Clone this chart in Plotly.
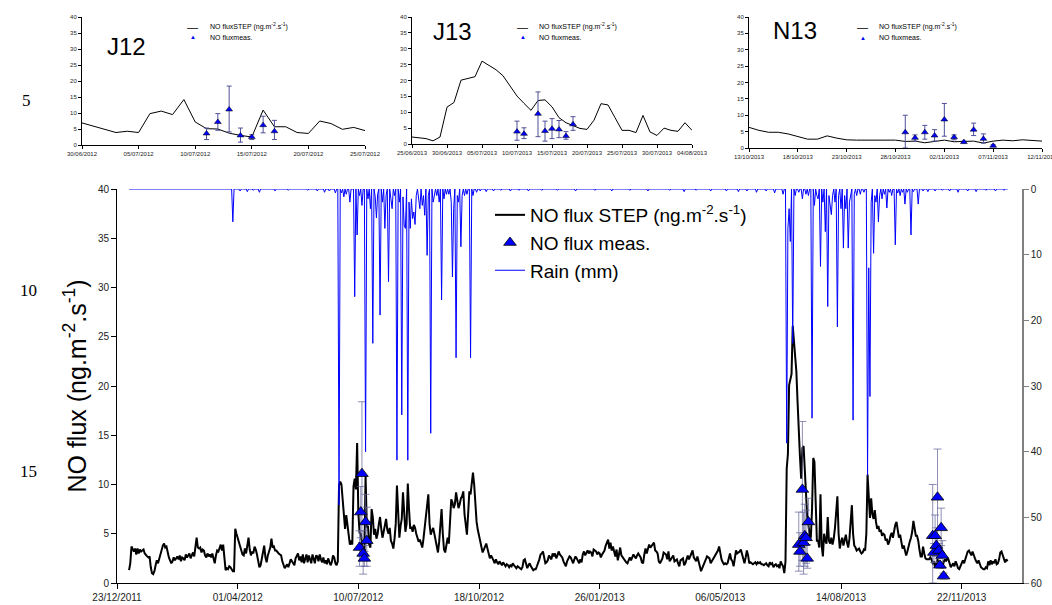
import numpy as np
import pandas as pd
import plotly.graph_objects as go

# ---------------- data ----------------
START = pd.Timestamp("2011-12-23")
step_first_day = 10          # first daily value = START + 10 days
step_val = [
    1.3, 2.0, 3.7, 3.4, 3.2, 3.5, 2.9, 3.5, 3.0, 3.4,
    3.2, 3.3, 3.4, 3.0, 2.8, 2.7, 2.6, 2.7, 1.6, 1.0,
    0.9, 1.2, 1.8, 2.3, 2.0, 2.5, 2.9, 3.2, 3.8, 4.0,
    3.6, 3.7, 3.0, 2.6, 2.3, 2.0, 2.2, 2.6, 2.3, 2.5,
    2.7, 2.4, 2.8, 2.2, 2.6, 2.5, 2.3, 2.9, 2.6, 2.8,
    3.0, 2.5, 2.8, 3.1, 2.7, 3.5, 4.6, 3.6, 3.5, 3.6,
    3.1, 3.4, 3.3, 2.8, 2.6, 3.0, 2.7, 2.9, 2.6, 3.0,
    2.5, 2.0, 2.8, 3.3, 3.2, 3.5, 3.9, 3.3, 3.9, 2.6,
    1.3, 1.5, 1.4, 1.7, 1.6, 1.4, 1.2, 1.2, 5.5, 5.0,
    4.6, 4.0, 3.8, 3.2, 2.9, 2.8, 3.5, 3.0, 3.9, 4.6,
    3.4, 2.8, 3.2, 3.0, 3.7, 3.4, 2.9, 2.2, 1.6, 1.8,
    2.4, 3.2, 3.8, 2.6, 2.1, 2.8, 3.3, 3.6, 4.5, 3.6,
    3.7, 3.3, 3.3, 3.1, 3.0, 2.9, 2.8, 2.2, 1.7, 1.5,
    1.7, 1.9, 1.6, 2.0, 2.4, 2.2, 2.0, 1.8, 2.5, 2.7,
    3.0, 2.3, 2.7, 2.1, 2.9, 2.0, 2.6, 2.9, 2.1, 2.8,
    2.4, 2.0, 2.9, 2.3, 2.0, 2.8, 2.7, 2.2, 2.9, 2.4,
    2.1, 2.6, 2.0, 2.3, 1.9, 2.5, 2.2, 1.8, 2.1, 2.8,
    2.6, 2.0, 1.8, 2.2, 9.9, 10.3, 10.0, 8.5, 7.9, 5.5,
    6.9, 5.9, 5.1, 3.9, 4.3, 3.9, 9.8, 10.6, 9.5, 14.2,
    7.2, 5.1, 5.0, 3.7, 3.0, 2.5, 10.9, 5.7, 5.7, 3.9,
    3.6, 7.5, 6.7, 4.9, 5.5, 4.5, 5.0, 6.0, 6.7, 5.5,
    4.6, 5.2, 6.0, 6.5, 5.4, 5.0, 5.6, 4.3, 4.0, 3.5,
    4.5, 6.0, 9.9, 7.5, 4.6, 5.8, 6.5, 9.2, 6.8, 5.2,
    6.0, 10.1, 7.5, 5.5, 5.7, 5.2, 5.9, 5.6, 5.0, 4.6,
    4.2, 4.4, 3.9, 3.6, 4.5, 5.6, 6.8, 8.0, 9.0, 6.0,
    4.9, 5.3, 5.6, 5.0, 4.3, 3.9, 3.1, 4.2, 6.0, 7.5,
    5.0, 3.4, 3.1, 3.8, 4.6, 4.0, 6.5, 8.5, 8.2, 7.6,
    8.0, 9.2, 8.4, 7.6, 8.0, 8.6, 8.8, 9.3, 7.0, 5.5,
    4.9, 7.0, 9.3, 9.0, 10.3, 11.2, 10.0, 7.8, 6.2, 5.4,
    4.9, 4.2, 3.6, 3.1, 3.4, 3.8, 4.0, 3.5, 2.9, 2.5,
    2.8, 2.6, 2.3, 2.0, 2.4, 2.1, 1.9, 2.2, 2.0, 1.8,
    2.1, 1.9, 1.7, 1.9, 1.8, 1.6, 1.8, 1.7, 2.0, 1.8,
    1.6, 1.5, 1.7, 1.6, 1.5, 1.4, 1.6, 2.3, 2.4, 1.8,
    1.5, 1.8, 2.0, 1.7, 1.5, 1.3, 1.4, 1.4, 1.7, 2.0,
    2.4, 2.9, 3.0, 3.2, 2.4, 2.0, 2.1, 2.3, 2.8, 2.6,
    2.4, 3.0, 2.7, 3.0, 2.5, 2.8, 3.2, 2.9, 2.7, 2.6,
    2.2, 1.9, 1.7, 2.2, 2.5, 2.7, 2.6, 2.3, 2.0, 2.4,
    2.7, 2.5, 2.3, 2.0, 2.4, 2.1, 2.9, 3.2, 2.8, 3.0,
    3.3, 3.0, 3.2, 3.1, 2.7, 3.4, 3.3, 3.2, 2.9, 3.1,
    3.0, 2.6, 2.9, 3.1, 3.3, 3.8, 4.1, 4.4, 3.5, 4.1,
    3.3, 3.7, 3.2, 2.7, 3.4, 2.3, 2.9, 3.6, 2.8, 2.6,
    2.5, 2.2, 2.1, 2.0, 2.4, 2.6, 2.3, 2.7, 2.9, 2.7,
    2.5, 2.8, 3.0, 2.8, 2.6, 2.1, 2.0, 2.9, 3.5, 3.0,
    3.4, 3.9, 3.6, 3.8, 4.0, 4.1, 3.3, 3.2, 3.0, 2.2,
    2.0, 2.2, 2.5, 3.1, 3.0, 2.9, 2.4, 3.2, 2.2, 2.4,
    2.6, 2.8, 2.2, 2.3, 2.4, 2.0, 1.7, 2.3, 2.4, 2.5,
    1.8, 2.0, 2.4, 2.8, 2.4, 2.7, 3.0, 3.3, 2.6, 2.4,
    2.2, 2.7, 2.2, 1.7, 1.2, 1.5, 1.8, 2.1, 2.2, 2.7,
    2.6, 2.5, 2.0, 2.2, 2.4, 2.7, 2.8, 3.0, 3.3, 3.7,
    2.8, 2.4, 2.1, 1.9, 2.0, 1.9, 2.0, 2.5, 3.0, 2.4,
    2.2, 1.7, 2.4, 3.3, 3.0, 3.1, 3.2, 3.4, 2.9, 2.4,
    2.0, 2.6, 3.3, 2.8, 2.0, 2.1, 2.0, 1.9, 2.0, 2.1,
    1.9, 2.1, 2.0, 2.1, 1.9, 1.9, 1.8, 1.9, 2.0, 1.8,
    1.7, 2.1, 1.9, 2.0, 1.6, 1.8, 1.9, 1.7, 1.8, 1.5,
    2.2, 1.9, 1.7, 1.0, 2.2, 11.6, 13.1, 20.1, 20.6, 21.2,
    26.1, 24.8, 23.4, 21.5, 18.4, 15.1, 12.8, 10.6, 13.7, 13.9,
    11.7, 8.3, 6.7, 5.9, 4.9, 4.6, 7.5, 12.7, 12.3, 8.3,
    4.3, 4.3, 3.6, 9.0, 3.8, 2.7, 5.0, 4.3, 4.0, 6.7,
    4.3, 4.0, 4.6, 3.9, 4.5, 5.6, 7.0, 8.8, 5.0, 3.5,
    4.2, 4.6, 3.8, 4.4, 4.9, 4.1, 3.6, 4.5, 6.0, 7.9,
    5.0, 3.8, 3.6, 3.3, 3.4, 3.5, 3.2, 3.0, 3.1, 3.4,
    3.3, 5.0, 11.0, 8.0, 6.6, 8.6, 7.0, 6.5, 7.4, 6.2,
    5.5, 5.8, 5.2, 5.4, 4.8, 5.0, 4.9, 4.3, 4.5, 3.9,
    4.2, 4.8, 5.1, 4.6, 5.4, 5.9, 6.2, 5.2, 4.6, 4.9,
    4.3, 3.5, 3.8, 3.1, 2.8, 3.2, 3.9, 4.2, 4.6, 5.2,
    6.3, 5.4, 4.8, 4.8, 4.3, 3.4, 2.7, 2.7, 3.7, 3.0,
    2.5, 2.4, 2.4, 2.4, 2.6, 2.4, 2.0, 2.1, 1.6, 2.0,
    2.4, 1.9, 1.9, 2.1, 1.5, 2.1, 2.4, 2.2, 2.5, 2.4,
    2.1, 1.6, 1.8, 2.0, 1.7, 2.2, 1.9, 1.5, 1.4, 1.7,
    2.0, 2.3, 2.0, 2.5, 2.8, 3.2, 3.3, 3.0, 2.8, 3.2,
    2.7, 2.5, 2.2, 2.0, 2.3, 1.8, 1.6, 1.5, 1.4, 1.4,
    1.6, 1.5, 2.2, 1.8, 2.3, 1.9, 2.2, 2.0, 2.4, 1.9,
    2.0, 2.4, 3.1, 3.2, 2.8, 2.3, 2.1, 2.4, 2.2,
]

# rain events (day offset from START, mm); all other days of the record are 0 mm
rain_first_day, rain_last_day = 10, 738
rain_day = [96, 102, 108, 113, 118, 131, 142, 158, 166, 172, 176, 181,
            184, 186, 188, 190, 193, 197, 199, 201, 203, 206, 208, 210, 212, 214, 215, 216,
            218, 220, 222, 223, 225, 227, 228, 230, 232, 234, 236, 237, 238, 239, 241, 242,
            243, 244, 245, 246, 247, 248, 250, 251, 253, 254, 255, 257, 258, 260, 262, 263,
            265, 267, 269, 271, 273, 275, 277, 278, 279, 281, 282, 283, 285, 286, 288, 290,
            293, 295, 298, 301, 306, 312, 318, 326, 333, 341, 352, 365, 380, 396, 410, 425,
            440, 458, 470, 480, 492, 505, 515, 522, 530, 538, 545, 552,
            555, 556, 557, 558, 560, 562, 565, 568, 571, 573, 576, 578, 580, 581, 583, 585,
            587, 589, 590, 591, 592, 593, 595, 597, 598, 600, 602, 603, 604, 606, 607, 608,
            610, 611, 613, 616, 619, 622, 623, 624, 625, 627, 628, 629, 631, 632, 634, 636,
            638, 640, 642, 645, 647, 649, 651, 653, 655, 658, 660, 664, 668, 672, 678, 684,
            690, 697, 705, 712, 720, 728, 735]
rain_mm = [5.0, 0.3, 0.4, 0.2, 0.5, 0.3, 0.2, 0.2, 0.3, 0.5, 0.3, 0.6,
           48.1, 0.6, 1.2, 0.8, 2.0, 16.4, 7.0, 1.0, 2.5, 40.0, 1.5, 3.0, 23.5, 1.2, 4.4, 0.8,
           19.2, 2.0, 6.0, 1.0, 14.1, 1.5, 3.0, 1.0, 41.3, 2.0, 34.4, 1.2, 5.5, 6.0, 41.3, 2.0,
           6.0, 1.5, 4.5, 3.5, 5.4, 1.0, 1.5, 3.0, 2.5, 1.0, 4.0, 10.1, 1.0, 37.2, 2.0, 1.0,
           1.0, 2.0, 16.9, 1.5, 0.8, 0.8, 2.0, 13.4, 3.0, 25.7, 1.0, 2.0, 8.8, 1.0, 1.0, 0.8,
           25.7, 1.0, 0.5, 0.3, 0.4, 0.3, 0.2, 0.3, 0.2, 0.3, 0.2, 0.2, 0.3, 0.2, 0.3, 0.2,
           0.3, 0.2, 0.4, 0.2, 0.3, 0.3, 0.4, 0.3, 0.5, 0.3, 0.6, 0.8,
           38.7, 6.0, 3.0, 8.0, 23.5, 1.0, 0.5, 1.5, 0.8, 1.0, 34.9, 2.5, 1.0, 1.5, 11.8, 2.0,
           6.5, 17.9, 1.0, 3.0, 3.9, 1.0, 2.0, 21.0, 1.0, 3.0, 9.0, 1.0, 3.0, 9.0, 2.0, 1.0,
           35.2, 0.8, 1.0, 0.8, 0.5, 43.6, 12.0, 31.6, 2.0, 9.8, 1.0, 2.0, 5.0, 1.0, 1.5, 0.8,
           2.9, 0.5, 1.0, 8.5, 0.6, 1.0, 0.5, 2.3, 0.5, 7.0, 0.4, 2.3, 0.3, 0.4, 0.3, 0.2,
           0.3, 0.5, 0.3, 0.4, 0.2, 0.3, 0.2]

meas_date = ["2012-07-11", "2012-07-12", "2012-07-13", "2012-07-14", "2012-07-15", "2012-07-16", "2012-07-17",
             "2013-07-10", "2013-07-11", "2013-07-13", "2013-07-14", "2013-07-15", "2013-07-16", "2013-07-17", "2013-07-18",
             "2013-10-29", "2013-10-30", "2013-10-31", "2013-11-01", "2013-11-02", "2013-11-03", "2013-11-04",
             "2013-11-05", "2013-11-06", "2013-11-07"]
meas_val = [3.6, 7.2, 11.1, 3.0, 2.5, 6.2, 4.3,
            3.9, 3.2, 9.5, 4.1, 4.8, 4.6, 2.5, 6.2,
            4.8, 3.1, 4.8, 3.8, 8.7, 3.3, 1.8, 5.6, 2.8, 0.7]
meas_hi = [5.3, 9.8, 18.4, 5.3, 3.2, 9.0, 7.7,
           7.2, 5.1, 16.4, 7.2, 8.0, 7.4, 3.9, 8.6,
           10.0, 4.0, 6.9, 5.6, 13.6, 4.0, 2.1, 7.6, 4.3, 1.0]
meas_lo = [1.7, 4.6, 4.1, 0.9, 1.7, 3.8, 1.7,
           1.2, 1.7, 2.3, 0.9, 1.7, 2.0, 1.5, 4.3,
           0.0, 2.1, 2.7, 2.1, 3.6, 2.5, 1.5, 3.8, 1.5, 0.4]

main_tick_dates = ["2011-12-23", "2012-04-01", "2012-07-10", "2012-10-18",
                   "2013-01-26", "2013-05-06", "2013-08-14", "2013-11-22"]
main_x_end = "2014-01-11"

inset_names = ["J12", "J13", "N13"]
inset_start = ["2012-06-30", "2013-06-25", "2013-10-13"]
inset_end = ["2012-07-25", "2013-08-04", "2013-11-12"]

line_numbers = ["5", "10", "15"]

# ---------------- derived ----------------
step_x = START + pd.to_timedelta(np.arange(step_first_day, step_first_day + len(step_val)), unit="D")
step_s = pd.Series(step_val, index=step_x)

rain_days_all = np.arange(rain_first_day, rain_last_day + 1)
rain_series = pd.Series(0.0, index=rain_days_all)
for d, v in zip(rain_day, rain_mm):
    rain_series[d] = v
rain_x = START + pd.to_timedelta(rain_days_all, unit="D")

meas_x = pd.to_datetime(meas_date)
meas_v = np.array(meas_val)
err_up = np.array(meas_hi) - meas_v
err_dn = meas_v - np.array(meas_lo)

FONT = "Arial, 'Liberation Sans', sans-serif"
W, H = 1052, 605

def px(x):
    return x / W

def py(y):
    return 1 - y / H

fig = go.Figure()

fig.add_trace(go.Scatter(
    x=rain_x, y=rain_series.values, xaxis="x", yaxis="y2", mode="lines",
    line=dict(color="#0000ff", width=1), name="Rain (mm)", legendrank=3))
fig.add_trace(go.Scatter(
    x=step_x, y=step_val, xaxis="x", yaxis="y", mode="lines",
    line=dict(color="black", width=2),
    name="NO flux STEP (ng.m<sup>-2</sup>.s<sup>-1</sup>)", legendrank=1))
fig.add_trace(go.Scatter(
    x=meas_x, y=meas_v, xaxis="x", yaxis="y", mode="markers",
    marker=dict(symbol="triangle-up", size=11, color="#0000ff", line=dict(color="black", width=0.8)),
    error_y=dict(type="data", symmetric=False, array=err_up, arrayminus=err_dn,
                 color="rgba(95,95,150,0.7)", thickness=1, width=4),
    name="NO flux meas.", legendrank=2))

inset_xdom = [[px(82), px(365)], [px(412), px(692)], [px(749), px(1042)]]
inset_ydom = [[py(145), py(17)], [py(144), py(17)], [py(148), py(17)]]

layout_axes = {}
annotations = []
for i, name in enumerate(inset_names):
    xa, ya = f"x{i + 2}", f"y{i + 3}"
    s, e = pd.Timestamp(inset_start[i]), pd.Timestamp(inset_end[i])
    seg = step_s[(step_s.index >= s) & (step_s.index <= e)]
    fig.add_trace(go.Scatter(x=seg.index, y=seg.values, xaxis=xa, yaxis=ya, mode="lines",
                             line=dict(color="black", width=1), showlegend=False))
    m = (meas_x >= s) & (meas_x <= e)
    fig.add_trace(go.Scatter(
        x=meas_x[m], y=meas_v[m], xaxis=xa, yaxis=ya, mode="markers",
        marker=dict(symbol="triangle-up", size=6, color="#0000ff", line=dict(color="black", width=0.5)),
        error_y=dict(type="data", symmetric=False, array=err_up[m], arrayminus=err_dn[m],
                     color="#50509a", thickness=1, width=2.5),
        showlegend=False))
    layout_axes[f"xaxis{i + 2}"] = dict(
        domain=inset_xdom[i], anchor=ya, type="date", range=[s, e], tick0=s,
        dtick=5 * 86400000, tickformat="%d/%m/%Y", ticks="outside", ticklen=3,
        tickcolor="black", showline=True, linecolor="black", linewidth=1,
        showgrid=False, zeroline=False, automargin=False, ticklabeloverflow="allow",
        tickfont=dict(size=6, color="#222", family=FONT))
    layout_axes[f"yaxis{i + 3}"] = dict(
        domain=inset_ydom[i], anchor=xa, range=[0, 40], dtick=5, tick0=0,
        ticks="outside", ticklen=3, tickcolor="black", showline=True, linecolor="black",
        linewidth=1, showgrid=False, zeroline=False, automargin=False,
        tickfont=dict(size=6, color="#222", family=FONT))

# inset titles
title_pos = [(126, 46), (452, 32), (795, 30)]
for name, (tx, ty) in zip(inset_names, title_pos):
    annotations.append(dict(text=name, x=px(tx), y=py(ty), xref="paper", yref="paper",
                            showarrow=False, xanchor="center", yanchor="middle",
                            font=dict(size=24, family=FONT, color="black")))

# inset legends
leg_pos = [(192, 208, 27, 37), (522, 537, 27, 37), (862, 877, 27, 38)]
for (lx, tx, r1, r2) in leg_pos:
    annotations.append(dict(text="—", x=px(lx), y=py(r1), xref="paper", yref="paper",
                            showarrow=False, xanchor="center", yanchor="middle",
                            font=dict(size=11, family=FONT, color="black")))
    annotations.append(dict(text="▲", x=px(lx + 1), y=py(r2), xref="paper", yref="paper",
                            showarrow=False, xanchor="center", yanchor="middle",
                            font=dict(size=6, family=FONT, color="#0000ff")))
    annotations.append(dict(text="NO fluxSTEP (ng.m<sup>-2</sup>.s<sup>-1</sup>)", x=px(tx), y=py(r1),
                            xref="paper", yref="paper", showarrow=False, xanchor="left",
                            yanchor="middle", font=dict(size=7, family=FONT, color="black")))
    annotations.append(dict(text="NO fluxmeas.", x=px(tx), y=py(r2),
                            xref="paper", yref="paper", showarrow=False, xanchor="left",
                            yanchor="middle", font=dict(size=7, family=FONT, color="black")))

# manuscript line numbers
for txt, (lx, ly) in zip(line_numbers, [(26, 100), (28, 290), (28, 471)]):
    annotations.append(dict(text=txt, x=px(lx), y=py(ly), xref="paper", yref="paper",
                            showarrow=False, xanchor="center", yanchor="middle",
                            font=dict(size=17, family="'Liberation Serif', 'Times New Roman', serif",
                                      color="black")))

fig.update_layout(
    width=W, height=H, margin=dict(l=0, r=0, t=0, b=0, autoexpand=False),
    paper_bgcolor="white", plot_bgcolor="white",
    font=dict(family=FONT, color="black"),
    xaxis=dict(domain=[px(117), px(1022)], anchor="y", type="date",
               range=[START, pd.Timestamp(main_x_end)], tickmode="array",
               tickvals=main_tick_dates, tickformat="%d/%m/%Y", ticks="outside", ticklen=5,
               tickcolor="black", showline=True, linecolor="black", linewidth=1,
               showgrid=False, zeroline=False, automargin=False,
               tickfont=dict(size=10, color="#222", family=FONT)),
    yaxis=dict(domain=[py(583), py(189)], anchor="x", range=[0, 40], dtick=5, tick0=0,
               ticks="outside", ticklen=5, tickcolor="black", showline=True, linecolor="black",
               linewidth=1, showgrid=False, zeroline=False, automargin=False,
               tickfont=dict(size=10, color="#222", family=FONT),
               title=dict(text="NO flux (ng.m<sup>-2</sup>.s<sup>-1</sup>)",
                          font=dict(size=25, family=FONT, color="black"), standoff=4)),
    yaxis2=dict(overlaying="y", side="right", anchor="x", range=[60, 0], dtick=10, tick0=0,
                ticks="outside", ticklen=5, tickcolor="#808080", showline=True,
                linecolor="#808080", linewidth=1.5, showgrid=False, zeroline=False,
                automargin=False, tickfont=dict(size=10, color="#222", family=FONT)),
    legend=dict(x=px(490), y=py(196), xanchor="left", yanchor="top",
                bgcolor="rgba(0,0,0,0)", font=dict(size=19, family=FONT, color="black"),
                itemwidth=30),
    showlegend=True,
    annotations=annotations,
    **layout_axes,
)

fig.write_html("out.html", config={"displayModeBar": False},
               post_script="document.body.style.margin='0';")
